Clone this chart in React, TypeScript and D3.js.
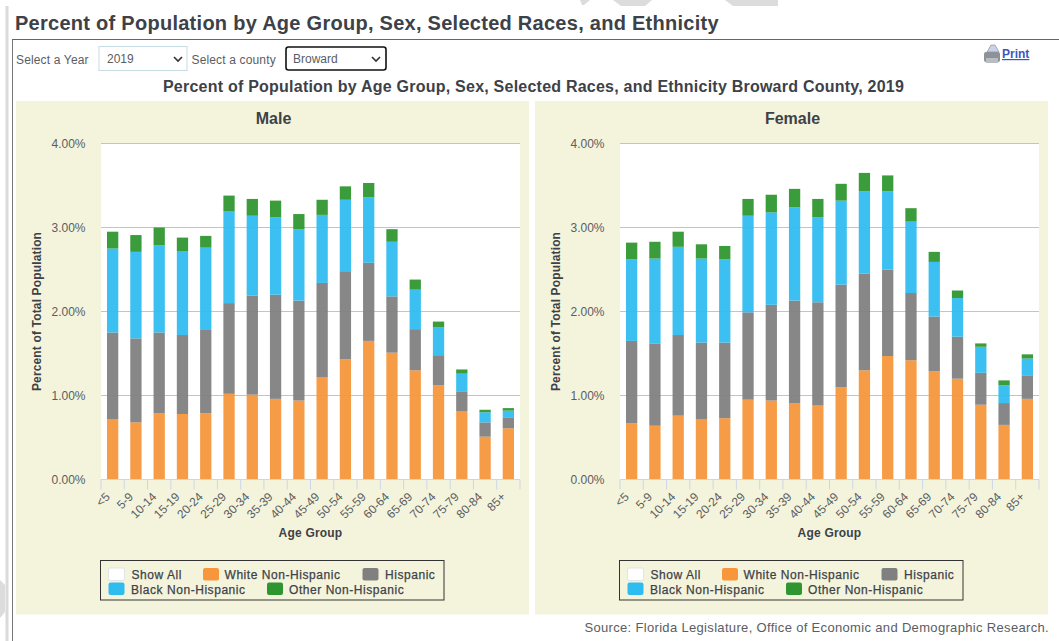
import React from "react";
import * as d3 from "d3";

const ageGroups = ["<5","5-9","10-14","15-19","20-24","25-29","30-34","35-39","40-44","45-49","50-54","55-59","60-64","65-69","70-74","75-79","80-84","85+"];
const yTicks = [0, 1, 2, 3, 4];
const seriesNames = ["White Non-Hispanic", "Hispanic", "Black Non-Hispanic", "Other Non-Hispanic"];
const seriesColors = ["#f7963a", "#808080", "#2fbcf0", "#2f962f"];

const maleWhite = [.72,.68,.79,.78,.79,1.02,1.01,.96,.94,1.22,1.43,1.65,1.51,1.30,1.12,.81,.51,.61];
const maleHispanic = [1.03,1.00,.96,.94,.99,1.08,1.18,1.24,1.19,1.12,1.05,.93,.67,.49,.36,.24,.17,.13];
const maleBlack = [1.00,1.03,1.04,1.00,.98,1.09,.95,.92,.85,.81,.85,.78,.65,.47,.33,.21,.12,.08];
const maleOther = [.20,.20,.21,.16,.14,.19,.20,.20,.18,.18,.16,.17,.15,.12,.07,.05,.03,.03];

const femaleWhite = [.67,.64,.76,.72,.73,.95,.94,.91,.88,1.10,1.30,1.47,1.42,1.29,1.20,.89,.65,.96];
const femaleHispanic = [.98,.98,.96,.91,.90,1.04,1.14,1.22,1.23,1.22,1.15,1.03,.80,.65,.50,.38,.26,.28];
const femaleBlack = [.97,1.01,1.05,1.00,.99,1.15,1.10,1.11,1.01,1.00,.98,.93,.85,.65,.46,.31,.21,.20];
const femaleOther = [.20,.20,.18,.17,.16,.20,.21,.22,.22,.20,.22,.19,.16,.12,.09,.04,.06,.05];

const FONT = "'Liberation Sans', Arial, sans-serif";
const INK = "#3d4148";
const MUTED = "#5a5d63";

function Panel({ title, left, series }: { title: string; left: number; series: number[][] }) {
  const plotL = left + 85;
  const plotR = plotL + 419;
  const top = 143.5;
  const bottom = 479.5;
  const x = d3.scaleBand<string>().domain(ageGroups).range([plotL, plotR]).paddingInner(0.515).paddingOuter(0.2575);
  const y = d3.scaleLinear().domain([0, 4]).range([bottom, top]);
  const rows = ageGroups.map((a, i) => {
    const r: Record<string, any> = { age: a };
    seriesNames.forEach((s, k) => (r[s] = series[k][i]));
    return r;
  });
  const stacked = d3.stack<any>().keys(seriesNames)(rows);
  const step = (plotR - plotL) / ageGroups.length;
  const cx = left + 257.5;
  const lx = left + 84.5;
  return (
    <g fontFamily={FONT}>
      <rect x={left} y={101} width={513} height={513.5} fill="#f4f4dc" />
      <rect x={plotL} y={top} width={plotR - plotL} height={bottom - top} fill="#fff" />
      <text x={cx} y={124} textAnchor="middle" fontSize={16} fontWeight={700} fill={INK}>{title}</text>
      {yTicks.map((t) => (
        <g key={t}>
          {t > 0 && <line x1={plotL} x2={plotR} y1={y(t)} y2={y(t)} stroke="#c4c4c4" strokeWidth={1} />}
          <text x={plotL - 15.5} y={y(t) + 4.5} textAnchor="end" fontSize={12} fill={MUTED}>{t.toFixed(2)}%</text>
        </g>
      ))}
      {stacked.map((s, k) => (
        <g key={s.key} fill={seriesColors[k]} fillOpacity={0.94}>
          {s.map((d, i) => (
            <rect key={i} x={x(ageGroups[i])} y={y(d[1])} width={x.bandwidth()} height={y(d[0]) - y(d[1])} />
          ))}
        </g>
      ))}
      <line x1={plotL} x2={plotR} y1={bottom} y2={bottom} stroke="#ccd6eb" />
      {d3.range(ageGroups.length + 1).map((i) => (
        <line key={i} x1={plotL + i * step} x2={plotL + i * step} y1={bottom} y2={bottom + 10} stroke="#ccd6eb" />
      ))}
      {ageGroups.map((a, i) => {
        const px = plotL + (i + 0.5) * step - 2;
        return (
          <text key={a} transform={`translate(${px},${bottom + 18}) rotate(-45)`} textAnchor="end" fontSize={12} fill={MUTED}>{a}</text>
        );
      })}
      <text x={(plotL + plotR) / 2} y={537} textAnchor="middle" fontSize={12} fontWeight={700} letterSpacing={0.2} fill={INK}>Age Group</text>
      <text transform={`translate(${left + 25},${(top + bottom) / 2}) rotate(-90)`} textAnchor="middle" fontSize={12} fontWeight={700} letterSpacing={0.15} fill={INK}>Percent of Total Population</text>
      <rect x={lx} y={560.5} width={343.5} height={39.5} fill="none" stroke="#333" strokeWidth={1} />
      <rect x={lx + 8} y={568} width={16} height={12.5} rx={2} fill="#fff" stroke="#dfe3ea" />
      <text x={lx + 31} y={579} fontSize={12} stroke={INK} strokeWidth={0.25} letterSpacing={0.55} fill={INK}>Show All</text>
      {[
        { n: 0, sx: 102.5, tx: 124, sy: 568 },
        { n: 1, sx: 262, tx: 284.5, sy: 568 },
        { n: 2, sx: 8, tx: 30.5, sy: 582.5 },
        { n: 3, sx: 166.5, tx: 188.5, sy: 582.5 },
      ].map((e) => (
        <g key={e.n}>
          <rect x={lx + e.sx} y={e.sy} width={16} height={12.5} rx={2} fill={seriesColors[e.n]} />
          <text x={lx + e.tx} y={e.sy + 11} fontSize={12} stroke={INK} strokeWidth={0.25} letterSpacing={0.55} fill={INK}>{seriesNames[e.n]}</text>
        </g>
      ))}
    </g>
  );
}

export default function App() {
  return (
    <svg width={1059} height={641} style={{ position: "absolute", left: 0, top: 0, background: "#fff" }}>
      <g fill="#dcdcdc">
        <polygon points="580,0 590,0 584,5 582,5" />
        <polygon points="613,0 652,0 645,6 621,6" />
        <polygon points="725,0 778,0 778,6 733,6" />
        <polygon points="0,580 5,585 5,612 0,618" />
      </g>
      <rect x={5.5} y={6} width={3} height={635} fill="#dadada" />
      <line x1={12.5} x2={12.5} y1={39} y2={641} stroke="#777" />
      <line x1={12} x2={1059} y1={39.5} y2={39.5} stroke="#666" />
      <g fontFamily={FONT}>
        <text x={15} y={30} fontSize={20} fontWeight={700} letterSpacing={0.27} fill={INK}>Percent of Population by Age Group, Sex, Selected Races, and Ethnicity</text>
        <text x={16} y={63.5} fontSize={12} letterSpacing={0.15} fill={MUTED}>Select a Year</text>
        <rect x={99} y={46.5} width={88} height={24} fill="#fff" stroke="#c5dbe3" />
        <text x={107} y={63} fontSize={12} fill={MUTED}>2019</text>
        <path d="M174 57 l4 4 l4 -4" fill="none" stroke="#333" strokeWidth={1.6} />
        <text x={191.5} y={63.5} fontSize={12} letterSpacing={0.15} fill={MUTED}>Select a county</text>
        <rect x={286} y={47} width={100} height={23} rx={2.5} fill="#fff" stroke="#111" strokeWidth={1.6} />
        <text x={293} y={63} fontSize={12} fill={MUTED}>Broward</text>
        <path d="M372 57 l4 4 l4 -4" fill="none" stroke="#333" strokeWidth={1.6} />
        <g>
          <rect x={984} y={52} width={16} height={10} rx={2} fill="#8d9298" />
          <polygon points="987,52 991,45 995,45 999,52" fill="#c9d3e6" stroke="#8d9298" strokeWidth={0.7} />
          <rect x={986} y={58} width={12} height={5} fill="#b9bcc0" />
        </g>
        <text x={1002} y={58} fontSize={12} fontWeight={700} fill="#3a58c0" textDecoration="underline">Print</text>
        <text x={533.5} y={92} textAnchor="middle" fontSize={16} fontWeight={700} letterSpacing={0.23} fill={INK}>Percent of Population by Age Group, Sex, Selected Races, and Ethnicity Broward County, 2019</text>
        <text x={1049} y={632} textAnchor="end" fontSize={13} letterSpacing={0.33} fill={MUTED}>Source: Florida Legislature, Office of Economic and Demographic Research.</text>
      </g>
      <Panel title="Male" left={16} series={[maleWhite, maleHispanic, maleBlack, maleOther]} />
      <Panel title="Female" left={535} series={[femaleWhite, femaleHispanic, femaleBlack, femaleOther]} />
    </svg>
  );
}
